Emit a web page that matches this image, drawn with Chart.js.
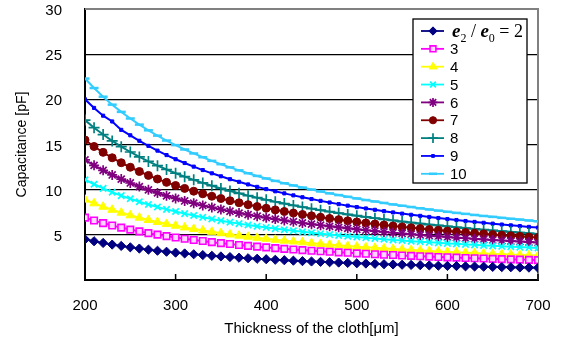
<!DOCTYPE html>
<html lang="en">
<head>
    <meta charset="UTF-8">
    <title>Capacitance vs thickness of the cloth</title>
    <script src="https://cdn.jsdelivr.net/npm/chart.js@4.4.0/dist/chart.umd.min.js"></script>
    <style>
        body {
            margin: 0;
            background: #ffffff;
        }

        .chart-wrap {
            width: 563px;
            height: 340px;
        }
    </style>
</head>
<body>
    <div class="chart-wrap">
        <canvas id="capChart" width="563" height="340"></canvas>
    </div>

    <script>
        // thickness of the cloth [um]
        const thickness = [
            200, 210, 220, 230, 240, 250, 260, 270, 280, 290,
            300, 310, 320, 330, 340, 350, 360, 370, 380, 390,
            400, 410, 420, 430, 440, 450, 460, 470, 480, 490,
            500, 510, 520, 530, 540, 550, 560, 570, 580, 590,
            600, 610, 620, 630, 640, 650, 660, 670, 680, 690,
            700
        ];

        // e2 / e0 ratio of each curve
        const ratios = ['2', '3', '4', '5', '6', '7', '8', '9', '10'];

        // capacitance [pF], one list per ratio
        const capRatio2 = [
            4.50, 4.29, 4.10, 3.92, 3.77, 3.62, 3.48, 3.36, 3.24, 3.13,
            3.03, 2.94, 2.85, 2.76, 2.68, 2.61, 2.54, 2.47, 2.41, 2.35,
            2.30, 2.24, 2.19, 2.14, 2.09, 2.05, 2.01, 1.97, 1.93, 1.89,
            1.85, 1.82, 1.79, 1.75, 1.72, 1.69, 1.67, 1.64, 1.61, 1.58,
            1.56, 1.54, 1.51, 1.49, 1.47, 1.45, 1.43, 1.41, 1.39, 1.37,
            1.35
        ];
        const capRatio3 = [
            6.90, 6.59, 6.30, 6.04, 5.80, 5.58, 5.38, 5.19, 5.02, 4.86,
            4.71, 4.57, 4.43, 4.31, 4.19, 4.08, 3.98, 3.88, 3.78, 3.69,
            3.61, 3.53, 3.45, 3.38, 3.31, 3.24, 3.18, 3.12, 3.06, 3.01,
            2.95, 2.90, 2.85, 2.80, 2.76, 2.71, 2.67, 2.63, 2.59, 2.55,
            2.51, 2.48, 2.44, 2.41, 2.38, 2.34, 2.31, 2.28, 2.26, 2.23,
            2.20
        ];
        const capRatio4 = [
            8.90, 8.49, 8.11, 7.77, 7.45, 7.16, 6.90, 6.65, 6.42, 6.21,
            6.01, 5.82, 5.65, 5.48, 5.33, 5.18, 5.04, 4.91, 4.79, 4.67,
            4.56, 4.45, 4.35, 4.26, 4.17, 4.08, 3.99, 3.91, 3.84, 3.76,
            3.69, 3.62, 3.56, 3.50, 3.43, 3.38, 3.32, 3.27, 3.21, 3.16,
            3.11, 3.07, 3.02, 2.98, 2.93, 2.89, 2.85, 2.81, 2.77, 2.74,
            2.70
        ];
        const capRatio5 = [
            11.10, 10.60, 10.14, 9.72, 9.34, 8.99, 8.66, 8.36, 8.08, 7.82,
            7.58, 7.35, 7.14, 6.94, 6.75, 6.57, 6.40, 6.24, 6.09, 5.95,
            5.82, 5.69, 5.56, 5.45, 5.33, 5.23, 5.13, 5.03, 4.93, 4.84,
            4.76, 4.68, 4.60, 4.52, 4.44, 4.37, 4.30, 4.24, 4.17, 4.11,
            4.05, 4.00, 3.94, 3.89, 3.83, 3.78, 3.73, 3.69, 3.64, 3.59,
            3.55
        ];
        const capRatio6 = [
            13.30, 12.69, 12.14, 11.63, 11.17, 10.74, 10.34, 9.98, 9.64, 9.32,
            9.03, 8.75, 8.50, 8.25, 8.03, 7.81, 7.61, 7.41, 7.23, 7.06,
            6.90, 6.74, 6.59, 6.45, 6.31, 6.18, 6.06, 5.94, 5.83, 5.72,
            5.61, 5.51, 5.42, 5.32, 5.23, 5.15, 5.07, 4.98, 4.91, 4.83,
            4.76, 4.69, 4.62, 4.56, 4.49, 4.43, 4.37, 4.31, 4.26, 4.20,
            4.15
        ];
        const capRatio7 = [
            15.50, 14.78, 14.13, 13.53, 12.98, 12.48, 12.01, 11.58, 11.18, 10.81,
            10.46, 10.14, 9.83, 9.54, 9.27, 9.02, 8.78, 8.55, 8.34, 8.13,
            7.94, 7.76, 7.58, 7.41, 7.25, 7.10, 6.95, 6.81, 6.68, 6.55,
            6.43, 6.31, 6.20, 6.09, 5.98, 5.88, 5.78, 5.69, 5.59, 5.51,
            5.42, 5.34, 5.26, 5.18, 5.11, 5.03, 4.96, 4.89, 4.83, 4.76,
            4.70
        ];
        const capRatio8 = [
            17.70, 16.86, 16.10, 15.40, 14.76, 14.17, 13.63, 13.13, 12.66, 12.23,
            11.82, 11.44, 11.09, 10.75, 10.44, 10.14, 9.86, 9.60, 9.34, 9.11,
            8.88, 8.66, 8.46, 8.26, 8.08, 7.90, 7.73, 7.57, 7.41, 7.26,
            7.12, 6.98, 6.84, 6.72, 6.59, 6.47, 6.36, 6.25, 6.14, 6.04,
            5.94, 5.84, 5.75, 5.66, 5.57, 5.49, 5.41, 5.33, 5.25, 5.17,
            5.10
        ];
        const capRatio9 = [
            20.00, 19.05, 18.19, 17.55, 16.62, 16.02, 15.41, 14.85, 14.32, 13.83,
            13.37, 12.95, 12.55, 12.17, 11.81, 11.48, 11.16, 10.87, 10.58, 10.31,
            10.06, 9.82, 9.59, 9.37, 9.16, 8.96, 8.76, 8.58, 8.40, 8.23,
            8.07, 7.92, 7.77, 7.62, 7.48, 7.35, 7.22, 7.10, 6.98, 6.86,
            6.75, 6.64, 6.53, 6.43, 6.33, 6.24, 6.14, 6.05, 5.97, 5.88,
            5.80
        ];
        const capRatio10 = [
            22.30, 21.25, 20.29, 19.41, 18.61, 17.88, 17.20, 16.57, 15.98, 15.44,
            14.93, 14.45, 14.01, 13.59, 13.19, 12.82, 12.47, 12.14, 11.82, 11.52,
            11.24, 10.97, 10.71, 10.47, 10.23, 10.01, 9.80, 9.59, 9.40, 9.21,
            9.03, 8.85, 8.69, 8.53, 8.37, 8.22, 8.08, 7.94, 7.81, 7.68,
            7.55, 7.43, 7.32, 7.20, 7.09, 6.99, 6.88, 6.78, 6.69, 6.59,
            6.50
        ];

        const xTickValues = [200, 300, 400, 500, 600, 700];
        const yTickValues = [0, 5, 10, 15, 20, 25, 30];

        const allSeries = [capRatio2, capRatio3, capRatio4, capRatio5, capRatio6,
                           capRatio7, capRatio8, capRatio9, capRatio10];

        // marker look of each curve (Excel-like)
        const looks = [
            { color: '#000080', fill: '#000080', style: 'rectRot',  radius: 4.6, bw: 1 },
            { color: '#ff00ff', fill: '#ffd6ff', style: 'rect',     radius: 4.6, bw: 1.6 },
            { color: '#ffff00', fill: '#ffff00', style: 'triangle', radius: 5,   bw: 1 },
            { color: '#00ffff', fill: '#00ffff', style: 'crossRot', radius: 4.5, bw: 1.7 },
            { color: '#800080', fill: '#800080', style: 'star',     radius: 5,   bw: 1.7 },
            { color: '#800000', fill: '#800000', style: 'circle',   radius: 4,   bw: 1 },
            { color: '#008080', fill: '#008080', style: 'cross',    radius: 5.5, bw: 1.7 },
            { color: '#0000ff', fill: '#0000ff', style: 'rect',     radius: 2.2, bw: 1 },
            { color: '#33ccff', fill: '#33ccff', style: 'line',     radius: 4.5, bw: 2.5 }
        ];

        const datasets = allSeries.map((values, i) => ({
            label: ratios[i],
            data: values.map((v, j) => ({ x: thickness[j], y: v })),
            borderColor: looks[i].color,
            backgroundColor: looks[i].fill,
            borderWidth: 2,
            pointStyle: looks[i].style,
            pointRadius: looks[i].radius,
            pointBorderWidth: looks[i].bw,
            pointBorderColor: looks[i].color,
            pointBackgroundColor: looks[i].fill,
            tension: 0
        }));

        // gray top/right frame and inward ticks on the x axis
        const framePlugin = {
            id: 'frame',
            beforeDatasetsDraw(chart) {
                const { ctx, chartArea: a, scales } = chart;
                ctx.save();
                ctx.strokeStyle = '#808080';
                ctx.lineWidth = 2;
                ctx.beginPath();
                ctx.moveTo(a.left, a.top);
                ctx.lineTo(a.right, a.top);
                ctx.lineTo(a.right, a.bottom);
                ctx.stroke();

                ctx.strokeStyle = '#000000';
                ctx.lineWidth = 1.5;
                ctx.beginPath();
                scales.x.ticks.forEach(t => {
                    const px = scales.x.getPixelForValue(t.value);
                    ctx.moveTo(px, a.bottom);
                    ctx.lineTo(px, a.bottom - 6);
                });
                ctx.stroke();
                ctx.restore();
            }
        };

        function drawRatioLabel(ctx, x, y) {
            const parts = [
                ['bold italic 19px "Liberation Serif"', 'e', 0],
                ['12px "Liberation Serif"', '2', 5],
                ['18px "Liberation Serif"', ' / ', 0],
                ['bold italic 19px "Liberation Serif"', 'e', 0],
                ['12px "Liberation Serif"', '0', 5],
                ['18px "Liberation Serif"', ' = 2', 0]
            ];
            ctx.textBaseline = 'alphabetic';
            parts.forEach(([font, txt, dy]) => {
                ctx.font = font;
                ctx.fillText(txt, x, y + dy);
                x += ctx.measureText(txt).width;
            });
        }

        // boxed legend inside the plot, top right
        const boxLegend = {
            id: 'boxLegend',
            afterDatasetsDraw(chart) {
                const ctx = chart.ctx;
                const box = { left: 413, top: 19, width: 114, height: 164 };
                ctx.save();
                ctx.fillStyle = '#ffffff';
                ctx.fillRect(box.left, box.top, box.width, box.height);
                ctx.strokeStyle = '#000000';
                ctx.lineWidth = 1.3;
                ctx.strokeRect(box.left, box.top, box.width, box.height);

                chart.data.datasets.forEach((ds, i) => {
                    const y = 31 + i * 17.85;
                    ctx.strokeStyle = ds.borderColor;
                    ctx.lineWidth = 1.8;
                    ctx.beginPath();
                    ctx.moveTo(421, y);
                    ctx.lineTo(444, y);
                    ctx.stroke();

                    ctx.fillStyle = ds.pointBackgroundColor;
                    ctx.strokeStyle = ds.pointBorderColor;
                    ctx.lineWidth = ds.pointBorderWidth;
                    Chart.helpers.drawPoint(ctx, {
                        pointStyle: ds.pointStyle,
                        radius: ds.pointRadius * 0.9,
                        borderWidth: ds.pointBorderWidth,
                        rotation: 0
                    }, 433, y);

                    ctx.fillStyle = '#000000';
                    if (i === 0) {
                        drawRatioLabel(ctx, 452, 37);
                    } else {
                        ctx.font = '15px "Liberation Sans"';
                        ctx.textBaseline = 'middle';
                        ctx.fillText(ds.label, 450, y + 1);
                    }
                });
                ctx.restore();
            }
        };

        const tickFont = { family: '"Liberation Sans", Arial, sans-serif', size: 15 };

        new Chart(document.getElementById('capChart'), {
            type: 'line',
            data: { datasets: datasets },
            options: {
                responsive: false,
                animation: false,
                devicePixelRatio: 1,
                layout: { padding: { top: 9, right: 25, bottom: 0, left: 0 } },
                plugins: {
                    legend: { display: false },
                    tooltip: { enabled: false }
                },
                scales: {
                    x: {
                        type: 'linear',
                        min: 200,
                        max: 700,
                        afterBuildTicks: s => { s.ticks = xTickValues.map(v => ({ value: v })); },
                        afterFit: s => {
                            s.height = 60;
                            s.paddingLeft = 0;
                            s.paddingRight = 0;
                        },
                        grid: { drawOnChartArea: false, drawTicks: false },
                        border: { color: '#000000', width: 2 },
                        ticks: { color: '#000000', font: tickFont, padding: 17, maxRotation: 0 },
                        title: {
                            display: true,
                            text: 'Thickness of the cloth[μm]',
                            color: '#000000',
                            font: { family: '"Liberation Sans", Arial, sans-serif', size: 15 },
                            padding: { top: 2, bottom: 2 }
                        }
                    },
                    y: {
                        min: 0,
                        max: 30,
                        afterBuildTicks: s => { s.ticks = yTickValues.map(v => ({ value: v })); },
                        afterFit: s => {
                            s.width = 85;
                            s.paddingTop = 0;
                            s.paddingBottom = 0;
                        },
                        grid: {
                            color: c => (c.tick && c.tick.value > 0 && c.tick.value < 30) ? '#000000' : 'rgba(0,0,0,0)',
                            lineWidth: 1.3,
                            drawTicks: false
                        },
                        border: { color: '#000000', width: 2 },
                        ticks: {
                            color: '#000000',
                            font: tickFont,
                            padding: 23,
                            labelOffset: 2,
                            callback: v => (v === 0 ? '' : v)
                        },
                        title: {
                            display: true,
                            text: 'Capacitance [pF]',
                            color: '#000000',
                            font: { family: '"Liberation Sans", Arial, sans-serif', size: 14 },
                            padding: { top: 14, bottom: 0 }
                        }
                    }
                }
            },
            plugins: [framePlugin, boxLegend]
        });
    </script>
</body>
</html>
